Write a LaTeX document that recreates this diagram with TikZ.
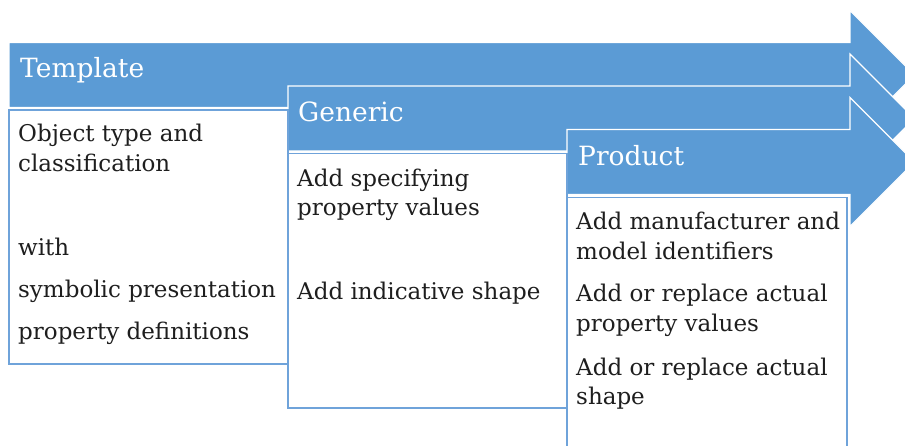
\documentclass[tikz,border=0pt]{standalone}
\usepackage{fontspec}
\setmainfont{DejaVu Serif}
\definecolor{stageblue}{HTML}{5B9BD5}
\definecolor{boxline}{HTML}{6FA3DA}
\definecolor{bodytext}{HTML}{1E1E1E}
\begin{document}
\begin{tikzpicture}[x=1pt,y=-1pt,
  stagearrow/.style={fill=stageblue,draw=white,line width=1.2pt,line join=miter},
  stagebox/.style={draw=boxline,fill=white,line width=1.2pt},
  headtext/.style={anchor=base west,inner sep=0pt,text=white,font=\fontsize{26.5}{30}\selectfont},
  bodyline/.style={anchor=base west,inner sep=0pt,text=bodytext,font=\fontsize{23}{30}\selectfont}]
\useasboundingbox (0,0) rectangle (905,446);
\begin{scope}
\clip (0,0) rectangle (905,446);
% stage arrows: body 65 high, head overhangs 32 above and below
\foreach \nm/\xl/\yt in {tplarrow/9/42.5, genarrow/288/86, prdarrow/567/129.5}{
  \draw[stagearrow] (\xl,\yt) -- (850,\yt) -- (850,\yt-32)
    -- (850+64.5,\yt+32.5) -- (850,\yt+97) -- (850,\yt+65) -- (\xl,\yt+65) -- cycle;
}
% content boxes under each stage
\draw[stagebox] (9,110) rectangle (288,364);
\draw[stagebox] (288,153.5) rectangle (567,408);
\draw[stagebox] (567,197.5) rectangle (847,460);
\end{scope}
\coordinate (tplbox) at (9,110);
\coordinate (genbox) at (288,153.5);
\coordinate (prdbox) at (567,197.5);
% stage titles
\node[headtext] (tplhead) at (20,78) {Template};
\node[headtext] (genhead) at (298,122) {Generic};
\node[headtext] (prdhead) at (578,166) {Product};
% template content
\node[bodyline] (t1) at (18,142) {Object type and};
\node[bodyline] (t2) at (18,172) {classification};
\node[bodyline] (t3) at (18,256) {with};
\node[bodyline] (t4) at (18,298) {symbolic presentation};
\node[bodyline] (t5) at (18,340) {property definitions};
% generic content
\node[bodyline] (g1) at (297,187) {Add specifying};
\node[bodyline] (g2) at (297,216) {property values};
\node[bodyline] (g3) at (297,300) {Add indicative shape};
% product content
\node[bodyline] (p1) at (576,230) {Add manufacturer and};
\node[bodyline] (p2) at (576,260) {model identifiers};
\node[bodyline] (p3) at (576,302) {Add or replace actual};
\node[bodyline] (p4) at (576,332) {property values};
\node[bodyline] (p5) at (576,375) {Add or replace actual};
\node[bodyline] (p6) at (576,404) {shape};
\end{tikzpicture}
\end{document}
